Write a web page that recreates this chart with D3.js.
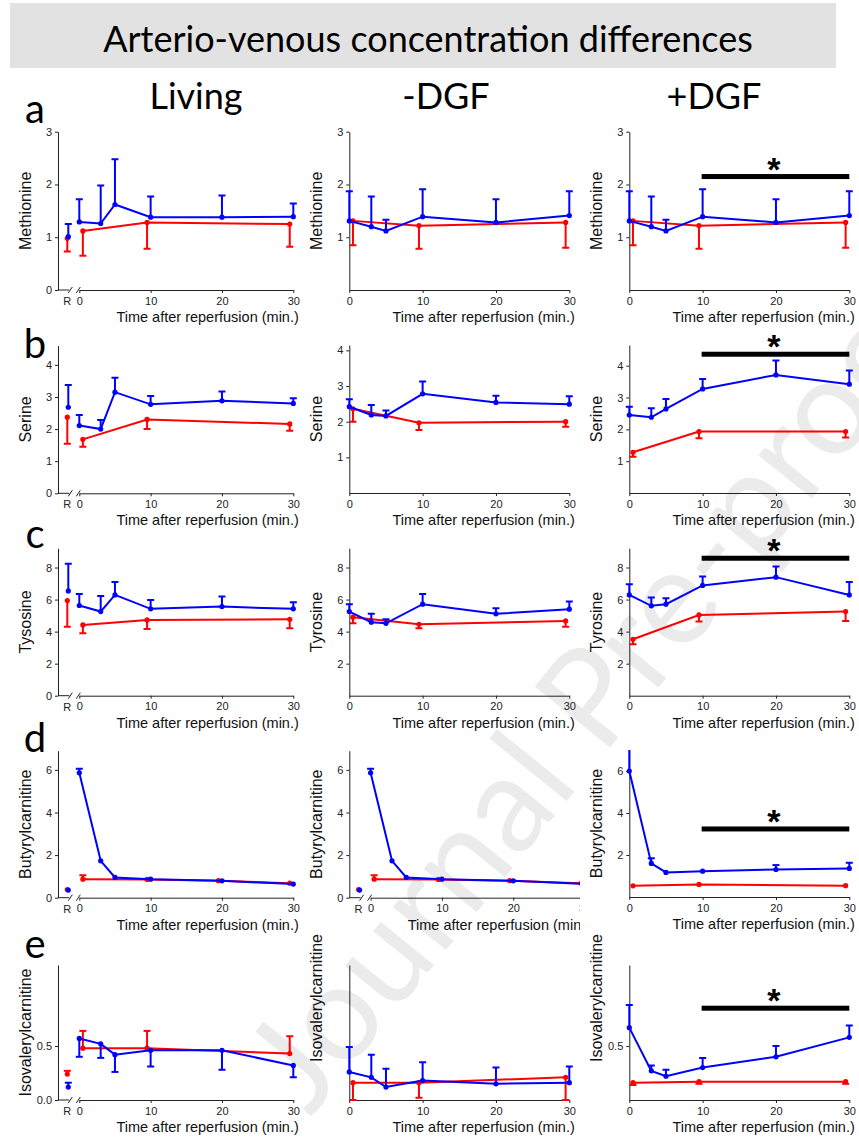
<!DOCTYPE html>
<html>
<head>
<meta charset="utf-8">
<script src="https://cdn.jsdelivr.net/npm/d3@7"></script>
<style>
  body { margin: 0; background: #fff; }
  svg text { font-family: Arial, "Liberation Sans", sans-serif; }
  .big { font-family: Lato, "Open Sans", sans-serif !important; }
</style>
</head>
<body>
<div id="chart"></div>
<script>
// time points (min after reperfusion)
var blueTimes = [0, 3, 5, 10, 20, 30]
var redTimes = [0.5, 9.5, 29.5]
var redTimesD = [0.5, 9.5, 19.5, 29.5]

// a  Methionine   (xxxErr = end of the error bar)
var metLivBlue = [1.29, 1.26, 1.62, 1.38, 1.38, 1.39]
var metLivBlueErr = [1.72, 1.98, 2.48, 1.77, 1.79, 1.64]
var metLivRed = [1.12, 1.28, 1.25]
var metLivRedErr = [0.65, 0.78, 0.82]
var metLivR = [1.01, 0.98], metLivRErr = [1.25, 0.73]
var metNegBlue = [1.31, 1.20, 1.12, 1.39, 1.28, 1.41]
var metNegBlueErr = [1.87, 1.77, 1.33, 1.91, 1.72, 1.87]
var metNegRed = [1.31, 1.22, 1.28]
var metNegRedErr = [0.85, 0.78, 0.80]
var metPosBlue = [1.31, 1.20, 1.12, 1.39, 1.28, 1.41]
var metPosBlueErr = [1.87, 1.77, 1.33, 1.91, 1.72, 1.87]
var metPosRed = [1.31, 1.22, 1.28]
var metPosRedErr = [0.85, 0.78, 0.80]

// b  Serine
var serLivBlue = [2.11, 2.0, 3.15, 2.77, 2.88, 2.80]
var serLivBlueErr = [2.44, 2.28, 3.6, 3.03, 3.17, 2.96]
var serLivRed = [1.68, 2.3, 2.16]
var serLivRedErr = [1.45, 2.0, 1.95]
var serLivR = [2.68, 2.37], serLivRErr = [3.37, 1.54]
var serNegBlue = [2.42, 2.19, 2.16, 2.78, 2.54, 2.49]
var serNegBlueErr = [2.63, 2.47, 2.31, 3.13, 2.73, 2.71]
var serNegRed = [2.36, 1.97, 2.0]
var serNegRedErr = [2.0, 1.77, 1.86]
var serPosBlue = [2.45, 2.38, 2.64, 3.27, 3.71, 3.42]
var serPosBlueErr = [2.71, 2.66, 2.95, 3.58, 4.16, 3.85]
var serPosRed = [1.28, 1.93, 1.93]
var serPosRedErr = [1.14, 1.72, 1.74]

// c  Tyrosine
var tyrLivBlue = [5.63, 5.25, 6.29, 5.42, 5.56, 5.42]
var tyrLivBlueErr = [6.34, 6.23, 7.09, 5.98, 6.19, 5.84]
var tyrLivRed = [4.42, 4.73, 4.77]
var tyrLivRedErr = [3.9, 4.17, 4.21]
var tyrLivR = [6.54, 5.94], tyrLivRErr = [8.23, 4.31]
var tyrNegBlue = [5.25, 4.59, 4.52, 5.71, 5.11, 5.4]
var tyrNegBlueErr = [5.71, 5.11, 4.77, 6.34, 5.46, 5.88]
var tyrNegRed = [4.9, 4.46, 4.67]
var tyrNegRedErr = [4.52, 4.21, 4.31]
var tyrPosBlue = [6.29, 5.61, 5.71, 6.88, 7.4, 6.29]
var tyrPosBlueErr = [6.96, 6.13, 6.09, 7.44, 8.06, 7.09]
var tyrPosRed = [3.52, 5.04, 5.25]
var tyrPosRedErr = [3.21, 4.63, 4.67]

// d  Butyrylcarnitine
var butLivBlue = [5.86, 1.73, 0.95, 0.87, 0.79, 0.64]
var butLivBlueErr = [6.05, 1.8, 0.98, 0.9, 0.82, 0.67]
var butLivRed = [0.87, 0.86, 0.80, 0.68]
var butLivRedErr = [1.05, 0.88, 0.83, 0.7]
var butLivR = [0.36, 0.38], butLivRErr = [0.36, 0.38]
var butPosBlue = [6.0, 1.6, 1.17, 1.23, 1.31, 1.36]
var butPosBlueErr = [7.8, 1.85, 1.2, 1.27, 1.52, 1.63]
var butPosRed = [0.53, 0.6, 0.54]
var butPosRedErr = [0.53, 0.6, 0.54]

// e  Isovalerylcarnitine
var isoLivBlue = [0.57, 0.52, 0.42, 0.46, 0.46, 0.32]
var isoLivBlueErr = [0.40, 0.39, 0.26, 0.31, 0.28, 0.21]
var isoLivRed = [0.48, 0.48, 0.43]
var isoLivRedErr = [0.64, 0.64, 0.59]
var isoLivR = [0.12, 0.24], isoLivRErr = [0.16, 0.27]
var isoNegBlue = [0.26, 0.21, 0.12, 0.18, 0.15, 0.16]
var isoNegBlueErr = [0.49, 0.42, 0.29, 0.35, 0.30, 0.31]
var isoNegRed = [0.16, 0.16, 0.21]
var isoNegRedErr = [0.0, 0.02, 0.0]
var isoPosBlue = [0.67, 0.27, 0.22, 0.30, 0.40, 0.58]
var isoPosBlueErr = [0.88, 0.32, 0.28, 0.39, 0.50, 0.69]
var isoPosRed = [0.16, 0.17, 0.17]
var isoPosRedErr = [0.14, 0.15, 0.15]

// significance bars (+DGF, 10-30 min)
var sigLevels = [2.15, 4.36, 8.58, 3.24, 0.85]

var xTicks = [0, 10, 20, 30]
var blue = "#0000ff", red = "#ff0000"

var svg = d3.select("#chart").append("svg")
    .attr("width", 859).attr("height", 1140)

var defs = svg.append("defs")

// watermark
svg.append("text")
    .attr("class", "big")
    .attr("transform", "translate(310,1118) rotate(-51)")
    .attr("font-size", 135)
    .attr("fill", "#ebebeb")
    .text("Journal Pre-proof")

// banner
svg.append("rect").attr("x", 10).attr("y", 3).attr("width", 826).attr("height", 65).attr("fill", "#e2e2e2")
svg.append("text").attr("class", "big")
    .attr("x", 428).attr("y", 52).attr("text-anchor", "middle")
    .attr("font-size", 36).attr("fill", "#000")
    .text("Arterio-venous concentration differences")

var heads = [["Living", 196], ["-DGF", 446], ["+DGF", 714]]
heads.forEach(function(h) {
  svg.append("text").attr("class", "big")
    .attr("x", h[1]).attr("y", 109).attr("text-anchor", "middle")
    .attr("font-size", 36).text(h[0])
})

var letters = [["a", 123], ["b", 358], ["c", 548], ["d", 752], ["e", 958]]
letters.forEach(function(l) {
  svg.append("text").attr("class", "big")
    .attr("x", 35).attr("y", l[1]).attr("text-anchor", "middle")
    .attr("font-size", 40).text(l[0])
})

var cols = {
  liv: {axis: 58, x0: 79.3, x30: 293.3, rX: 68.3},
  neg: {axis: 349.3, x0: 349.3, x30: 569.3},
  pos: {axis: 629.3, x0: 629.3, x30: 849.3}
}

var clipId = 0
function panel(p) {
  var c = cols[p.col]
  var shift = p.shift || 0
  var outer = svg.append("g")
  if (p.clipRight) {
    var cid = "cl" + (clipId++)
    defs.append("clipPath").attr("id", cid).append("rect")
      .attr("x", 0).attr("y", 0).attr("width", p.clipRight).attr("height", 1140)
    outer.attr("clip-path", "url(#" + cid + ")")
  }
  var g = outer.append("g").attr("transform", "translate(" + shift + ",0)")

  var x = d3.scaleLinear().domain([0, 30]).range([c.x0, c.x30])
  var y = d3.scaleLinear().domain([0, p.yMax]).range([p.bottom, p.top])

  // y axis
  g.append("g").attr("transform", "translate(" + c.axis + ",0)")
    .call(d3.axisLeft(y).tickValues(p.ticks).tickSize(3).tickSizeOuter(0).tickPadding(3)
      .tickFormat(p.fmt || d3.format("d")))
  // x axis
  g.append("g").attr("transform", "translate(0," + p.bottom + ")")
    .call(d3.axisBottom(x).tickValues(xTicks).tickSize(3).tickSizeOuter(0).tickPadding(4))
  g.selectAll(".tick text").attr("font-size", 11).attr("fill", "#222").attr("font-family", "Arial, 'Liberation Sans', sans-serif")
  g.selectAll(".domain, .tick line").attr("stroke", "#222")

  if (c.rX) {
    // broken axis + R position
    g.append("line").attr("x1", c.axis).attr("x2", c.rX + 1).attr("y1", p.bottom).attr("y2", p.bottom).attr("stroke", "#222")
    ;[c.rX + 2, c.x0 - 1].forEach(function(bx) {
      g.append("line").attr("x1", bx - 2).attr("x2", bx + 2).attr("y1", p.bottom + 3).attr("y2", p.bottom - 3)
        .attr("stroke", "#222")
    })
    g.append("text").attr("x", c.rX - 1).attr("y", p.bottom + 15).attr("text-anchor", "middle")
      .attr("font-size", 11).attr("fill", "#222").text("R")
  }

  // labels
  g.append("text").attr("x", c.x30 + 5.5).attr("y", p.bottom + 32).attr("text-anchor", "end")
    .attr("font-size", 14.5).attr("fill", "#111").text("Time after reperfusion (min.)")
  var ly = p.labelY || (p.top + p.bottom) / 2
  g.append("text")
    .attr("transform", "translate(" + (c.axis - 27) + "," + ly + ") rotate(-90)")
    .attr("text-anchor", "middle").attr("font-size", 16).attr("fill", "#111").text(p.ylabel)

  // marks, clipped to plot area top
  var mid = "mk" + (clipId++)
  defs.append("clipPath").attr("id", mid).append("rect")
    .attr("x", c.axis - 20).attr("y", p.top).attr("width", c.x30 - c.axis + 30).attr("height", p.bottom - p.top + 20)
  var m = g.append("g").attr("clip-path", "url(#" + mid + ")")

  function series(times, vals, errs, col) {
    var pts = times.map(function(t, i) { return {t: t, v: vals[i], e: errs[i]} })
    m.append("path").datum(pts)
      .attr("fill", "none").attr("stroke", col).attr("stroke-width", 2)
      .attr("d", d3.line().x(function(d) { return x(d.t) }).y(function(d) { return y(d.v) }))
    drawPts(pts.map(function(d) { return {px: x(d.t), v: d.v, e: d.e} }), col)
  }
  function drawPts(pts, col) {
    var eg = m.append("g").attr("stroke", col).attr("stroke-width", 2)
    pts.forEach(function(d) {
      if (Math.abs(y(d.e) - y(d.v)) > 1.5) {
        eg.append("line").attr("x1", d.px).attr("x2", d.px).attr("y1", y(d.v)).attr("y2", y(d.e))
        eg.append("line").attr("x1", d.px - 3.5).attr("x2", d.px + 3.5).attr("y1", y(d.e)).attr("y2", y(d.e))
      }
    })
    m.append("g").selectAll("circle").data(pts).join("circle")
      .attr("cx", function(d) { return d.px }).attr("cy", function(d) { return y(d.v) })
      .attr("r", 2.6).attr("fill", col)
  }

  series(p.redT || redTimes, p.red, p.redErr, red)
  series(blueTimes, p.blue, p.blueErr, blue)
  if (p.R) {
    drawPts([{px: c.rX - 1, v: p.R[1], e: p.RErr[1]}], red)
    drawPts([{px: c.rX, v: p.R[0], e: p.RErr[0]}], blue)
  }

  if (p.sig != null) {
    g.append("rect").attr("x", x(10) - 1).attr("width", x(30) - x(10) + 1)
      .attr("y", y(p.sig) - 2.5).attr("height", 5).attr("fill", "#000")
    g.append("text").attr("x", x(20) - 2).attr("y", y(p.sig) + 4).attr("text-anchor", "middle")
      .attr("font-size", 34).attr("font-weight", "bold").attr("font-family", "Arial, 'Liberation Sans', sans-serif")
      .text("*")
  }
}

// row a
panel({col: "liv", top: 131.7, bottom: 290, yMax: 3, ticks: [0, 1, 2, 3], ylabel: "Methionine",
  blue: metLivBlue, blueErr: metLivBlueErr, red: metLivRed, redErr: metLivRedErr, R: metLivR, RErr: metLivRErr})
panel({col: "neg", top: 131.7, bottom: 290, yMax: 3, ticks: [1, 2, 3], ylabel: "Methionine",
  blue: metNegBlue, blueErr: metNegBlueErr, red: metNegRed, redErr: metNegRedErr})
panel({col: "pos", top: 131.7, bottom: 290, yMax: 3, ticks: [1, 2, 3], ylabel: "Methionine",
  blue: metPosBlue, blueErr: metPosBlueErr, red: metPosRed, redErr: metPosRedErr, sig: sigLevels[0]})

// row b
panel({col: "liv", top: 345.6, bottom: 493.3, yMax: 4.6, ticks: [0, 1, 2, 3, 4], ylabel: "Serine",
  blue: serLivBlue, blueErr: serLivBlueErr, red: serLivRed, redErr: serLivRedErr, R: serLivR, RErr: serLivRErr})
panel({col: "neg", top: 345, bottom: 493, yMax: 4.15, ticks: [1, 2, 3, 4], ylabel: "Serine",
  blue: serNegBlue, blueErr: serNegBlueErr, red: serNegRed, redErr: serNegRedErr})
panel({col: "pos", top: 345, bottom: 493, yMax: 4.65, ticks: [1, 2, 3, 4], ylabel: "Serine",
  blue: serPosBlue, blueErr: serPosBlueErr, red: serPosRed, redErr: serPosRedErr, sig: sigLevels[1]})

// row c
panel({col: "liv", top: 548.3, bottom: 695.7, yMax: 9.2, ticks: [0, 2, 4, 6, 8], ylabel: "Tysosine",
  blue: tyrLivBlue, blueErr: tyrLivBlueErr, red: tyrLivRed, redErr: tyrLivRedErr, R: tyrLivR, RErr: tyrLivRErr})
panel({col: "neg", top: 548.3, bottom: 695.7, yMax: 9.2, ticks: [2, 4, 6, 8], ylabel: "Tyrosine",
  blue: tyrNegBlue, blueErr: tyrNegBlueErr, red: tyrNegRed, redErr: tyrNegRedErr})
panel({col: "pos", top: 548.3, bottom: 695.7, yMax: 9.2, ticks: [2, 4, 6, 8], ylabel: "Tyrosine",
  blue: tyrPosBlue, blueErr: tyrPosBlueErr, red: tyrPosRed, redErr: tyrPosRedErr, sig: sigLevels[2]})

// row d
var butLiv = {col: "liv", top: 750.7, bottom: 897.7, yMax: 6.9, ticks: [0, 2, 4, 6], ylabel: "Butyrylcarnitine",
  blue: butLivBlue, blueErr: butLivBlueErr, red: butLivRed, redErr: butLivRedErr, redT: redTimesD,
  R: butLivR, RErr: butLivRErr}
panel(butLiv)
panel(Object.assign({}, butLiv, {shift: 291.3, clipRight: 580}))
panel({col: "pos", top: 750, bottom: 897, yMax: 7.0, ticks: [2, 4, 6], ylabel: "Butyrylcarnitine",
  blue: butPosBlue, blueErr: butPosBlueErr, red: butPosRed, redErr: butPosRedErr, sig: sigLevels[3]})

// row e
var fmt1 = d3.format(".1f")
panel({col: "liv", top: 965, bottom: 1100, yMax: 1.25, ticks: [0, 0.5], fmt: fmt1, ylabel: "Isovalerylcarnitine",
  blue: isoLivBlue, blueErr: isoLivBlueErr, red: isoLivRed, redErr: isoLivRedErr, R: isoLivR, RErr: isoLivRErr})
panel({col: "neg", top: 965, bottom: 1100, yMax: 1.25, ticks: [], ylabel: "Isovalerylcarnitine", labelY: 998,
  blue: isoNegBlue, blueErr: isoNegBlueErr, red: isoNegRed, redErr: isoNegRedErr})
panel({col: "pos", top: 965, bottom: 1100, yMax: 1.25, ticks: [0.5], fmt: fmt1, ylabel: "Isovalerylcarnitine", labelY: 998,
  blue: isoPosBlue, blueErr: isoPosBlueErr, red: isoPosRed, redErr: isoPosRedErr, sig: sigLevels[4]})
</script>
</body>
</html>
